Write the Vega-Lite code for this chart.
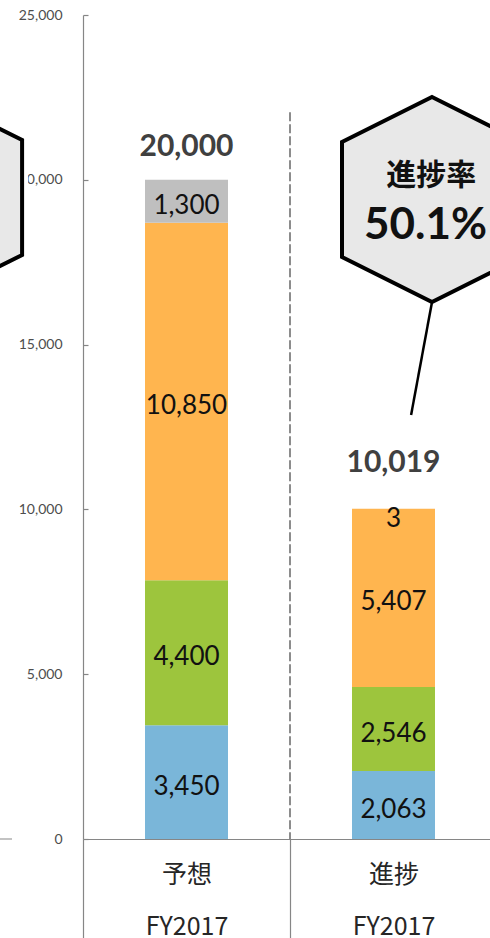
{
  "$schema": "https://vega.github.io/schema/vega-lite/v6.json",
  "width": 407,
  "height": 824,
  "autosize": {"type": "none"},
  "padding": {"left": 83, "top": 15, "right": 0, "bottom": 99},
  "background": "white",
  "config": {"view": {"stroke": null}, "font": "Lato, Noto Sans CJK JP"},
  "datasets": {
    "segs": [
      {"cat": "予想", "seg": "A", "order": 1, "value": 3450},
      {"cat": "予想", "seg": "B", "order": 2, "value": 4400},
      {"cat": "予想", "seg": "C", "order": 3, "value": 10850},
      {"cat": "予想", "seg": "D", "order": 4, "value": 1300},
      {"cat": "進捗", "seg": "A", "order": 1, "value": 2063},
      {"cat": "進捗", "seg": "B", "order": 2, "value": 2546},
      {"cat": "進捗", "seg": "C", "order": 3, "value": 5407},
      {"cat": "進捗", "seg": "D", "order": 4, "value": 3}
    ],
    "totals": [
      {"cat": "予想", "total": 20000},
      {"cat": "進捗", "total": 10019}
    ]
  },
  "resolve": {"scale": {"x": "independent"}},
  "layer": [
    {
      "data": {"name": "segs"},
      "transform": [
        {"stack": "value", "groupby": ["cat"], "sort": [{"field": "order", "order": "ascending"}], "as": ["v0", "v1"]},
        {"calculate": "(datum.v0 + datum.v1) / 2", "as": "mid"}
      ],
      "encoding": {
        "x": {
          "field": "cat", "type": "nominal", "sort": ["予想", "進捗"],
          "scale": {"domain": ["予想", "進捗"], "range": [0, 414], "paddingInner": 0, "paddingOuter": 0},
          "axis": {
            "title": null, "orient": "bottom",
            "domainColor": "#868686", "domainWidth": 1.2,
            "ticks": true, "tickBand": "extent", "tickSize": 100, "tickColor": "#868686", "tickWidth": 1.2,
            "labelAngle": 0, "labelFontSize": 25, "labelColor": "#262626", "labelFont": "Noto Sans CJK JP",
            "labelBaseline": "top", "labelPadding": -77, "labelLineHeight": 52,
            "labelExpr": "datum.label ? [datum.label, 'FY2017'] : ''"
          }
        }
      },
      "layer": [
        {
          "mark": {"type": "bar", "width": 83},
          "encoding": {
            "y": {
              "field": "v0", "type": "quantitative",
              "scale": {"domain": [0, 25000], "nice": false},
              "axis": {
                "title": null, "values": [0, 5000, 10000, 15000, 20000, 25000], "format": ",d",
                "grid": false, "domainColor": "#868686", "domainWidth": 1.2,
                "tickColor": "#868686", "tickSize": -5, "tickWidth": 1.2,
                "labelPadding": 26, "labelFontSize": 14, "labelColor": "#4d4d4d", "labelFont": "Lato"
              }
            },
            "y2": {"field": "v1"},
            "color": {
              "field": "seg", "type": "nominal",
              "scale": {"domain": ["A", "B", "C", "D"], "range": ["#7ab6d9", "#9dc53d", "#ffb54f", "#bfbfbf"]},
              "legend": null
            }
          }
        },
        {
          "transform": [{"filter": "datum.value >= 100"}],
          "mark": {"type": "text", "fontSize": 26, "font": "Lato", "color": "#111111", "baseline": "middle", "dy": 4.5},
          "encoding": {
            "y": {"field": "mid", "type": "quantitative"},
            "text": {"field": "value", "type": "quantitative", "format": ",d"}
          }
        },
        {
          "transform": [{"filter": "datum.value < 100"}],
          "mark": {"type": "text", "fontSize": 26, "font": "Lato", "color": "#111111", "baseline": "middle", "dy": 10.5},
          "encoding": {
            "y": {"field": "mid", "type": "quantitative"},
            "text": {"field": "value", "type": "quantitative", "format": ",d"}
          }
        },
        {
          "data": {"name": "totals"},
          "transform": [{"filter": "datum.cat === '予想'"}],
          "mark": {"type": "text", "fontSize": 30, "font": "Lato", "fontWeight": "bold", "color": "#404040", "baseline": "middle", "dy": -33},
          "encoding": {
            "y": {"field": "total", "type": "quantitative"},
            "text": {"field": "total", "type": "quantitative", "format": ",d"}
          }
        },
        {
          "data": {"name": "totals"},
          "transform": [{"filter": "datum.cat === '進捗'"}],
          "mark": {"type": "text", "fontSize": 30, "font": "Lato", "fontWeight": "bold", "color": "#404040", "baseline": "middle", "dy": -46},
          "encoding": {
            "y": {"field": "total", "type": "quantitative"},
            "text": {"field": "total", "type": "quantitative", "format": ",d"}
          }
        }
      ]
    },
    {
      "data": {"values": [{}]},
      "layer": [
        {
          "mark": {"type": "rule", "color": "#8c8c8c", "strokeWidth": 2, "strokeDash": [9, 3]},
          "encoding": {
            "x": {"datum": 1.0, "type": "quantitative", "scale": {"domain": [0, 2], "range": [0, 414]}, "axis": null},
            "y": {"datum": 22050, "type": "quantitative"},
            "y2": {"datum": 0}
          }
        },
        {
          "mark": {"type": "rule", "color": "#9a9a9a", "strokeWidth": 1.2},
          "encoding": {
            "x": {"datum": -0.401, "type": "quantitative"},
            "x2": {"datum": -0.343},
            "y": {"datum": 0, "type": "quantitative"}
          }
        },
        {
          "mark": {"type": "rule", "color": "#000000", "strokeWidth": 2.5},
          "encoding": {
            "x": {"datum": 1.686, "type": "quantitative"},
            "x2": {"datum": 1.585},
            "y": {"datum": 16293, "type": "quantitative"},
            "y2": {"datum": 12864}
          }
        },
        {
          "mark": {
            "type": "point", "filled": true, "fill": "#e8e8e8", "fillOpacity": 1, "opacity": 1,
            "stroke": "#000000", "strokeWidth": 4, "strokeOpacity": 1, "size": 42025,
            "shape": "M0,-1L0.878,-0.561L0.878,0.561L0,1L-0.878,0.561L-0.878,-0.561Z"
          },
          "encoding": {
            "x": {"datum": 1.686, "type": "quantitative"},
            "y": {"datum": 19402, "type": "quantitative"}
          }
        },
        {
          "mark": {
            "type": "point", "filled": true, "fill": "#ffffff", "fillOpacity": 1, "opacity": 1,
            "stroke": "#ffffff", "strokeWidth": 12, "strokeOpacity": 1, "size": 42025,
            "shape": "M0,-1L0.878,-0.561L0.878,0.561L0,1L-0.878,0.561L-0.878,-0.561Z"
          },
          "encoding": {
            "x": {"datum": -0.729, "type": "quantitative"},
            "y": {"datum": 19463, "type": "quantitative"}
          }
        },
        {
          "mark": {
            "type": "point", "filled": true, "fill": "#e8e8e8", "fillOpacity": 1, "opacity": 1,
            "stroke": "#000000", "strokeWidth": 4, "strokeOpacity": 1, "size": 42025,
            "shape": "M0,-1L0.878,-0.561L0.878,0.561L0,1L-0.878,0.561L-0.878,-0.561Z"
          },
          "encoding": {
            "x": {"datum": -0.729, "type": "quantitative"},
            "y": {"datum": 19463, "type": "quantitative"}
          }
        },
        {
          "mark": {"type": "text", "text": "進捗率", "fontSize": 30, "font": "Noto Sans CJK JP", "fontWeight": "bold", "color": "#111111", "baseline": "middle", "align": "center"},
          "encoding": {
            "x": {"datum": 1.682, "type": "quantitative"},
            "y": {"datum": 20115, "type": "quantitative"}
          }
        },
        {
          "mark": {"type": "text", "text": "50.1%", "fontSize": 44, "font": "Lato", "fontWeight": "bold", "color": "#111111", "baseline": "middle", "align": "left"},
          "encoding": {
            "x": {"datum": 1.357, "type": "quantitative"},
            "y": {"datum": 18613, "type": "quantitative"}
          }
        }
      ]
    }
  ]
}
